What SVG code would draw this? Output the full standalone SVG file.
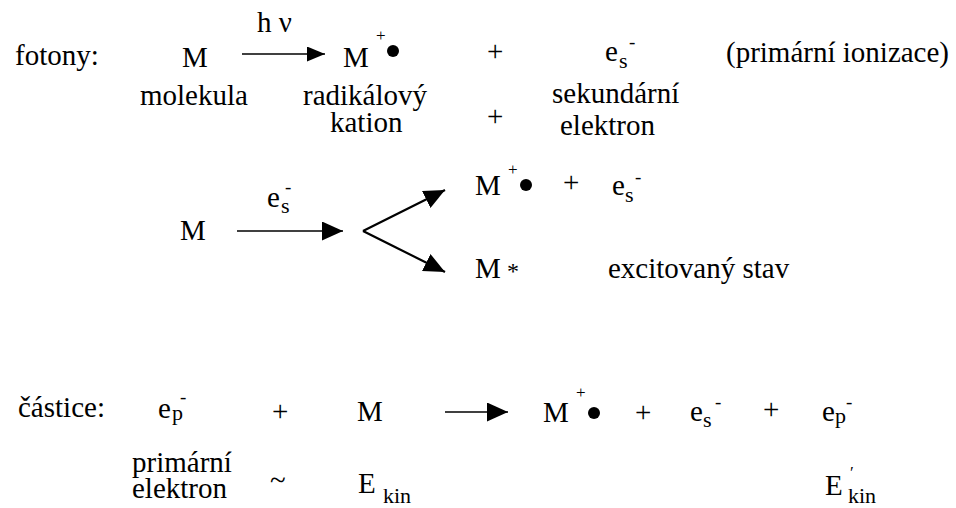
<svg xmlns="http://www.w3.org/2000/svg" width="956" height="508" viewBox="0 0 956 508">
<defs>
<marker id="ahS" markerUnits="userSpaceOnUse" viewBox="0 0 18 15" markerWidth="18" markerHeight="15" refX="18" refY="7.5" orient="auto"><path d="M0,0 L18,7.5 L0,15 z" fill="#000"/></marker>
<marker id="ahL" markerUnits="userSpaceOnUse" viewBox="0 0 21 19" markerWidth="21" markerHeight="19" refX="21" refY="9.5" orient="auto"><path d="M0,0 L21,9.5 L0,19 z" fill="#000"/></marker>
</defs>
<rect width="956" height="508" fill="#fff"/>

<g id="connectors" stroke="#000" fill="none">
<line stroke-width="1.6" x1="242" y1="54" x2="325" y2="54" marker-end="url(#ahS)"/>
<line stroke-width="1.6" x1="237" y1="231" x2="343" y2="231" marker-end="url(#ahL)"/>
<line stroke-width="2.2" x1="363" y1="231" x2="445" y2="190" marker-end="url(#ahL)"/>
<line stroke-width="2.2" x1="363" y1="231" x2="445" y2="272" marker-end="url(#ahL)"/>
<line stroke-width="1.6" x1="445" y1="412" x2="508" y2="412" marker-end="url(#ahL)"/>
</g>

<!-- Row 1: fotony -->
<g id="label-fotony"><text font-family="Liberation Serif" font-size="29" x="15" y="65">fotony:</text></g>
<g id="r1-M">
<text font-family="Liberation Serif" font-size="29" x="182" y="67">M</text>
<text font-family="Liberation Serif" font-size="29" x="140" y="105">molekula</text>
</g>
<g id="r1-hv"><text font-family="Liberation Serif" font-size="29" x="257" y="32">h ν</text></g>
<g id="r1-cation">
<text font-family="Liberation Serif" font-size="29" x="343" y="67">M</text>
<text font-family="Liberation Serif" font-size="17" x="376" y="41">+</text>
<circle cx="393" cy="51" r="6" fill="#000"/>
<text font-family="Liberation Serif" font-size="29" x="303" y="105">radikálový</text>
<text font-family="Liberation Serif" font-size="29" x="330" y="132">kation</text>
</g>
<g id="r1-plus1"><text font-family="Liberation Serif" font-size="29" x="487" y="61">+</text></g>
<g id="r1-plus2"><text font-family="Liberation Serif" font-size="29" x="487" y="126">+</text></g>
<g id="r1-es">
<text font-family="Liberation Serif" font-size="29" x="605" y="61">e</text>
<text font-family="Liberation Serif" font-size="22" x="619" y="68">s</text>
<text font-family="Liberation Serif" font-size="19" x="629" y="48">-</text>
<text font-family="Liberation Serif" font-size="29" x="552" y="103">sekundární</text>
<text font-family="Liberation Serif" font-size="29" x="560" y="135">elektron</text>
</g>
<g id="r1-note"><text font-family="Liberation Serif" font-size="29" x="726" y="62">(primární ionizace)</text></g>

<!-- Row 2 -->
<g id="r2-M"><text font-family="Liberation Serif" font-size="29" x="180" y="240">M</text></g>
<g id="r2-es-label">
<text font-family="Liberation Serif" font-size="29" x="267" y="207">e</text>
<text font-family="Liberation Serif" font-size="22" x="281" y="213">s</text>
<text font-family="Liberation Serif" font-size="19" x="285" y="193">-</text>
</g>
<g id="r2-cation">
<text font-family="Liberation Serif" font-size="29" x="475" y="195">M</text>
<text font-family="Liberation Serif" font-size="17" x="508" y="175">+</text>
<circle cx="526" cy="185" r="6" fill="#000"/>
</g>
<g id="r2-plus"><text font-family="Liberation Serif" font-size="29" x="563" y="192">+</text></g>
<g id="r2-es">
<text font-family="Liberation Serif" font-size="29" x="612" y="195">e</text>
<text font-family="Liberation Serif" font-size="22" x="625" y="202">s</text>
<text font-family="Liberation Serif" font-size="19" x="635" y="183">-</text>
</g>
<g id="r2-excited">
<text font-family="Liberation Serif" font-size="29" x="475" y="278">M</text>
<text font-family="Liberation Serif" font-size="24" x="507" y="279">*</text>
</g>
<g id="r2-excited-label"><text font-family="Liberation Serif" font-size="29" x="608" y="278">excitovaný stav</text></g>

<!-- Row 3 -->
<g id="label-castice"><text font-family="Liberation Serif" font-size="29" x="18" y="417">částice:</text></g>
<g id="r3-ep">
<text font-family="Liberation Serif" font-size="29" x="158" y="418">e</text>
<text font-family="Liberation Serif" font-size="22" x="172" y="420">p</text>
<text font-family="Liberation Serif" font-size="19" x="180" y="403">-</text>
<text font-family="Liberation Serif" font-size="29" x="132" y="472">primární</text>
<text font-family="Liberation Serif" font-size="29" x="132" y="498">elektron</text>
</g>
<g id="r3-plus1"><text font-family="Liberation Serif" font-size="29" x="272" y="421">+</text></g>
<g id="r3-tilde"><text font-family="Liberation Serif" font-size="29" x="270" y="490">~</text></g>
<g id="r3-M">
<text font-family="Liberation Serif" font-size="29" x="357" y="421">M</text>
<text font-family="Liberation Serif" font-size="29" x="358" y="493">E</text>
<text font-family="Liberation Serif" font-size="22" x="383" y="503">kin</text>
</g>
<g id="r3-cation">
<text font-family="Liberation Serif" font-size="29" x="543" y="422">M</text>
<text font-family="Liberation Serif" font-size="17" x="576" y="398">+</text>
<circle cx="594" cy="413" r="6" fill="#000"/>
</g>
<g id="r3-plus2"><text font-family="Liberation Serif" font-size="29" x="635" y="422">+</text></g>
<g id="r3-es">
<text font-family="Liberation Serif" font-size="29" x="690" y="421">e</text>
<text font-family="Liberation Serif" font-size="22" x="703" y="427">s</text>
<text font-family="Liberation Serif" font-size="19" x="715" y="408">-</text>
</g>
<g id="r3-plus3"><text font-family="Liberation Serif" font-size="29" x="763" y="419">+</text></g>
<g id="r3-ep2">
<text font-family="Liberation Serif" font-size="29" x="822" y="421">e</text>
<text font-family="Liberation Serif" font-size="22" x="835" y="423">p</text>
<text font-family="Liberation Serif" font-size="19" x="846" y="408">-</text>
<text font-family="Liberation Serif" font-size="29" x="825" y="495">E</text>
<text font-family="Liberation Serif" font-size="17" x="850" y="478">′</text>
<text font-family="Liberation Serif" font-size="22" x="848" y="503">kin</text>
</g>
</svg>
